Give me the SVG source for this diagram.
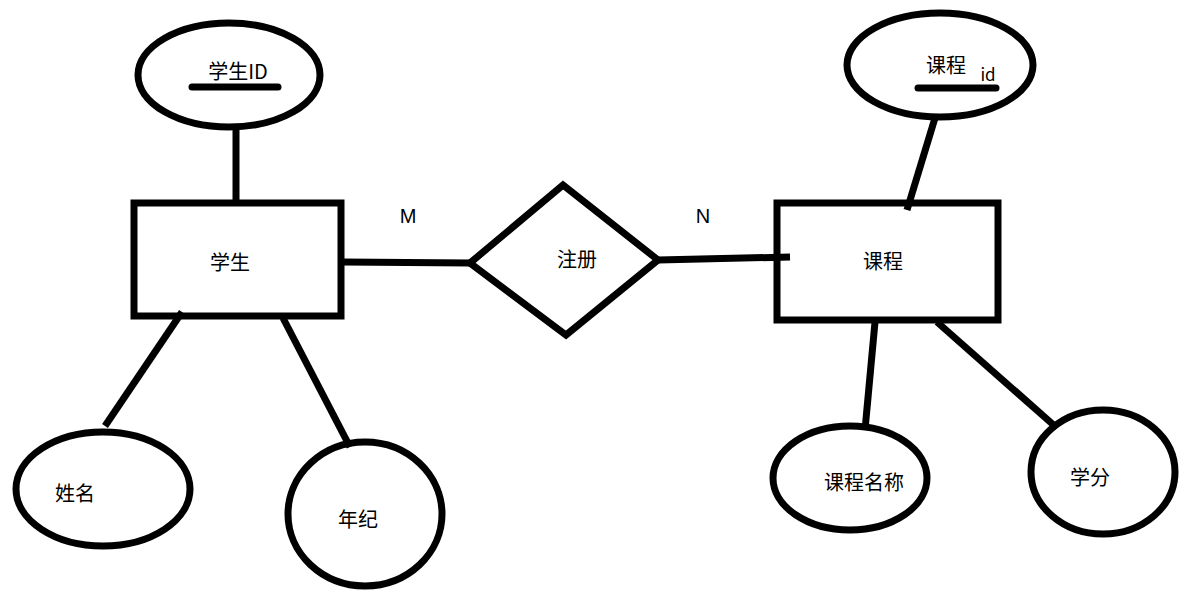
<svg xmlns="http://www.w3.org/2000/svg" width="1196" height="596" viewBox="0 0 1196 596">
<style>
.s{fill:none;stroke:#000;stroke-width:7;stroke-linejoin:miter}
.t{font-family:"Noto Sans CJK SC","Liberation Sans",sans-serif;font-size:20px;fill:#000;text-anchor:middle}
</style>
<rect width="1196" height="596" fill="#fff"/>
<g id="connectors" class="s">
<line x1="236" y1="128" x2="236" y2="203"/>
<line x1="343" y1="262" x2="470" y2="263"/>
<line x1="658" y1="260" x2="790" y2="257"/>
<line x1="935" y1="118" x2="907" y2="210"/>
<line x1="182" y1="312" x2="105" y2="426"/>
<line x1="283" y1="318" x2="350" y2="447"/>
<line x1="875" y1="322" x2="865" y2="430"/>
<line x1="937" y1="322" x2="1057" y2="428"/>
</g>
<g id="studentId"><ellipse class="s" cx="229" cy="75" rx="91" ry="52"/><text class="t" x="238" y="79">学生ID</text><line class="s" x1="192" y1="87" x2="278" y2="87" stroke-linecap="round"/></g>
<g id="student"><rect class="s" x="134" y="203" width="207" height="113"/><text class="t" x="230" y="270">学生</text></g>
<g id="register"><polygon class="s" points="470,263 563,185 658,260 566,335"/><text class="t" x="577" y="267">注册</text></g>
<g id="course"><rect class="s" x="777" y="203" width="221" height="117"/><text class="t" x="883" y="269">课程</text></g>
<g id="courseId"><ellipse class="s" cx="940" cy="65" rx="93" ry="52"/><text class="t" x="946" y="73">课程</text><text class="t" x="988" y="81" style="font-size:17px">id</text><line class="s" x1="918" y1="88" x2="996" y2="88" stroke-linecap="round"/></g>
<g id="name"><ellipse class="s" cx="103" cy="489" rx="87" ry="57"/><text class="t" x="75" y="501">姓名</text></g>
<g id="age"><ellipse class="s" cx="365" cy="514" rx="77" ry="72"/><text class="t" x="358" y="527">年纪</text></g>
<g id="courseName"><ellipse class="s" cx="850" cy="478" rx="77" ry="52"/><text class="t" x="864" y="490">课程名称</text></g>
<g id="credit"><ellipse class="s" cx="1103" cy="472" rx="72" ry="62"/><text class="t" x="1090" y="485">学分</text></g>
<text class="t" x="408" y="223" style="font-family:'Liberation Sans',sans-serif">M</text>
<text class="t" x="703" y="223" style="font-family:'Liberation Sans',sans-serif">N</text>
</svg>
